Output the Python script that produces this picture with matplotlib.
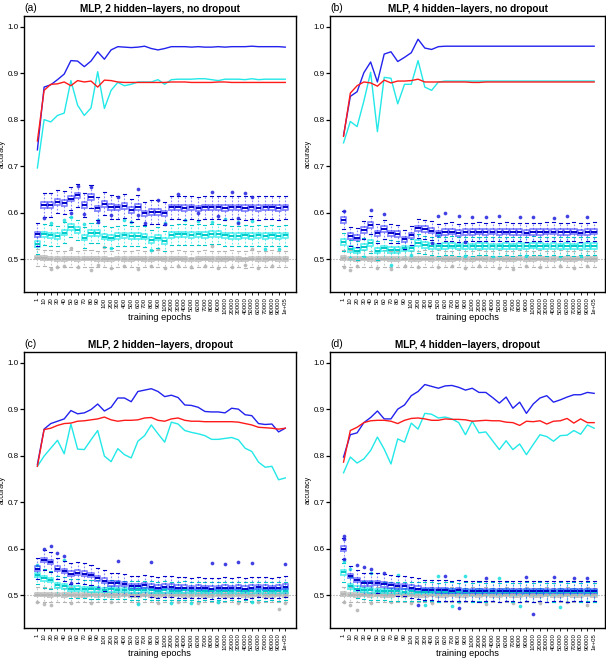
import matplotlib
matplotlib.use("Agg")
import matplotlib.pyplot as plt

plt.rcParams['font.family'] = ['Liberation Sans', 'DejaVu Sans']

# x tick labels (training epochs)
epochs = ['1', '10', '20', '30', '40', '50', '60', '70', '80', '90', '100',
          '200', '300', '400', '500', '600', '700', '800', '900', '1000',
          '2000', '3000', '4000', '5000', '6000', '7000', '8000', '9000', '10000',
          '20000', '30000', '40000', '50000', '60000', '70000', '80000', '90000', '1e+05']

titles = ['MLP, 2 hidden\u2212layers, no dropout', 'MLP, 4 hidden\u2212layers, no dropout',
          'MLP, 2 hidden\u2212layers, dropout', 'MLP, 4 hidden\u2212layers, dropout']
letters = ['(a)', '(b)', '(c)', '(d)']

# ---- accuracy lines ----
blue_a = [0.735, 0.870, 0.875, 0.886, 0.898, 0.927, 0.926, 0.914, 0.926, 0.946, 0.930, 0.950, 0.957,
          0.956, 0.955, 0.956, 0.958, 0.953, 0.950, 0.953, 0.957, 0.957, 0.957, 0.956, 0.957, 0.956,
          0.956, 0.957, 0.956, 0.957, 0.957, 0.957, 0.958, 0.957, 0.957, 0.957, 0.957, 0.956]
cyan_a = [0.696, 0.800, 0.795, 0.809, 0.814, 0.884, 0.831, 0.809, 0.825, 0.903, 0.824, 0.863, 0.880,
          0.873, 0.876, 0.881, 0.881, 0.881, 0.886, 0.876, 0.886, 0.887, 0.887, 0.887, 0.888, 0.888,
          0.886, 0.884, 0.887, 0.887, 0.887, 0.886, 0.888, 0.886, 0.887, 0.887, 0.887, 0.887]
red_a = [0.754, 0.863, 0.876, 0.877, 0.881, 0.873, 0.884, 0.881, 0.883, 0.870, 0.885, 0.884, 0.881,
         0.880, 0.880, 0.880, 0.880, 0.880, 0.880, 0.880, 0.881, 0.881, 0.881, 0.880, 0.880, 0.880,
         0.880, 0.881, 0.881, 0.880, 0.880, 0.880, 0.880, 0.880, 0.880, 0.880, 0.880, 0.880]

blue_b = [0.766, 0.850, 0.860, 0.901, 0.924, 0.881, 0.941, 0.946, 0.925, 0.934, 0.944, 0.973, 0.954,
          0.951, 0.957, 0.958, 0.958, 0.958, 0.958, 0.958, 0.958, 0.958, 0.958, 0.958, 0.958, 0.958,
          0.958, 0.958, 0.958, 0.958, 0.958, 0.958, 0.958, 0.958, 0.958, 0.958, 0.958, 0.958]
cyan_b = [0.750, 0.796, 0.785, 0.840, 0.902, 0.774, 0.891, 0.889, 0.834, 0.876, 0.876, 0.927, 0.870,
          0.863, 0.881, 0.883, 0.883, 0.883, 0.883, 0.883, 0.883, 0.883, 0.883, 0.883, 0.883, 0.883,
          0.883, 0.883, 0.883, 0.883, 0.883, 0.883, 0.883, 0.883, 0.883, 0.883, 0.883, 0.883]
red_b = [0.764, 0.857, 0.873, 0.881, 0.879, 0.872, 0.885, 0.879, 0.883, 0.883, 0.884, 0.887, 0.881,
         0.881, 0.881, 0.881, 0.881, 0.881, 0.881, 0.880, 0.880, 0.881, 0.881, 0.881, 0.881, 0.881,
         0.881, 0.881, 0.881, 0.881, 0.881, 0.881, 0.881, 0.881, 0.881, 0.881, 0.881, 0.881]

blue_c = [0.781, 0.857, 0.869, 0.874, 0.879, 0.897, 0.890, 0.892, 0.899, 0.911, 0.896, 0.904, 0.924,
          0.924, 0.916, 0.938, 0.941, 0.944, 0.938, 0.927, 0.930, 0.925, 0.909, 0.908, 0.904, 0.895,
          0.894, 0.894, 0.892, 0.902, 0.900, 0.888, 0.886, 0.869, 0.867, 0.868, 0.851, 0.859]
cyan_c = [0.777, 0.799, 0.816, 0.833, 0.804, 0.868, 0.814, 0.813, 0.834, 0.854, 0.799, 0.787, 0.815,
          0.802, 0.795, 0.831, 0.843, 0.866, 0.847, 0.829, 0.872, 0.868, 0.854, 0.850, 0.847, 0.843,
          0.835, 0.835, 0.837, 0.839, 0.834, 0.816, 0.809, 0.786, 0.775, 0.777, 0.748, 0.752]
red_c = [0.777, 0.856, 0.859, 0.865, 0.869, 0.870, 0.874, 0.875, 0.877, 0.879, 0.883, 0.877, 0.874,
         0.876, 0.876, 0.877, 0.881, 0.882, 0.876, 0.874, 0.879, 0.881, 0.876, 0.874, 0.874, 0.873,
         0.873, 0.873, 0.873, 0.873, 0.872, 0.869, 0.866, 0.861, 0.860, 0.859, 0.857, 0.859]

blue_d = [0.797, 0.845, 0.849, 0.871, 0.882, 0.896, 0.879, 0.879, 0.900, 0.909, 0.929, 0.938, 0.953,
          0.949, 0.945, 0.950, 0.951, 0.947, 0.941, 0.945, 0.936, 0.936, 0.925, 0.913, 0.926, 0.902,
          0.915, 0.891, 0.911, 0.924, 0.929, 0.915, 0.920, 0.926, 0.931, 0.931, 0.936, 0.934]
cyan_d = [0.763, 0.797, 0.784, 0.793, 0.811, 0.840, 0.814, 0.782, 0.836, 0.829, 0.870, 0.857, 0.891,
          0.889, 0.881, 0.883, 0.879, 0.871, 0.845, 0.874, 0.849, 0.851, 0.832, 0.813, 0.832, 0.813,
          0.825, 0.802, 0.824, 0.845, 0.841, 0.831, 0.843, 0.844, 0.854, 0.846, 0.866, 0.859]
red_d = [0.786, 0.854, 0.861, 0.871, 0.875, 0.876, 0.876, 0.874, 0.869, 0.876, 0.880, 0.881, 0.879,
         0.876, 0.876, 0.879, 0.878, 0.878, 0.877, 0.874, 0.875, 0.876, 0.875, 0.875, 0.872, 0.871,
         0.865, 0.874, 0.873, 0.875, 0.868, 0.874, 0.875, 0.880, 0.870, 0.879, 0.871, 0.871]

# ---- boxplot medians ----
bmed_a = [0.553, 0.616, 0.616, 0.623, 0.621, 0.630, 0.637, 0.616, 0.634, 0.609, 0.619, 0.612, 0.611,
          0.614, 0.605, 0.612, 0.598, 0.601, 0.601, 0.598, 0.611, 0.611, 0.610, 0.611, 0.609, 0.611,
          0.611, 0.611, 0.610, 0.611, 0.611, 0.610, 0.611, 0.610, 0.611, 0.611, 0.610, 0.611]
cmed_a = [0.532, 0.553, 0.551, 0.550, 0.557, 0.569, 0.562, 0.546, 0.556, 0.556, 0.548, 0.546, 0.550,
          0.551, 0.549, 0.550, 0.548, 0.541, 0.546, 0.539, 0.552, 0.553, 0.553, 0.552, 0.553, 0.552,
          0.554, 0.554, 0.551, 0.550, 0.550, 0.551, 0.550, 0.551, 0.550, 0.551, 0.550, 0.551]
gmed_a = [0.503, 0.502, 0.501, 0.500, 0.500, 0.501, 0.500, 0.501, 0.501, 0.500, 0.500, 0.499, 0.501,
          0.500, 0.500, 0.501, 0.500, 0.500, 0.501, 0.500, 0.500, 0.501, 0.500, 0.499, 0.500, 0.501,
          0.500, 0.500, 0.500, 0.501, 0.500, 0.499, 0.501, 0.500, 0.500, 0.501, 0.500, 0.500]

bmed_b = [0.584, 0.549, 0.546, 0.562, 0.573, 0.555, 0.564, 0.555, 0.554, 0.542, 0.551, 0.566, 0.564,
          0.561, 0.555, 0.558, 0.559, 0.556, 0.558, 0.558, 0.559, 0.558, 0.559, 0.558, 0.559, 0.558,
          0.558, 0.557, 0.558, 0.558, 0.559, 0.559, 0.558, 0.558, 0.559, 0.557, 0.558, 0.559]
cmed_b = [0.537, 0.521, 0.518, 0.526, 0.534, 0.518, 0.523, 0.520, 0.519, 0.523, 0.523, 0.534, 0.530,
          0.528, 0.527, 0.528, 0.529, 0.527, 0.528, 0.527, 0.528, 0.528, 0.527, 0.527, 0.528, 0.527,
          0.528, 0.528, 0.529, 0.528, 0.527, 0.528, 0.527, 0.528, 0.527, 0.528, 0.528, 0.528]
gmed_b = [0.502, 0.501, 0.500, 0.501, 0.500, 0.500, 0.501, 0.500, 0.500, 0.501, 0.500, 0.500, 0.501,
          0.500, 0.501, 0.500, 0.500, 0.501, 0.500, 0.500, 0.501, 0.500, 0.500, 0.501, 0.500, 0.500,
          0.501, 0.500, 0.500, 0.501, 0.500, 0.500, 0.501, 0.500, 0.500, 0.501, 0.500, 0.500]

bmed_c = [0.557, 0.575, 0.571, 0.557, 0.552, 0.546, 0.548, 0.546, 0.543, 0.536, 0.531, 0.525, 0.525,
          0.524, 0.519, 0.519, 0.521, 0.518, 0.516, 0.518, 0.518, 0.516, 0.516, 0.515, 0.516, 0.515,
          0.514, 0.515, 0.516, 0.515, 0.516, 0.514, 0.516, 0.517, 0.516, 0.515, 0.516, 0.518]
cmed_c = [0.543, 0.536, 0.532, 0.521, 0.519, 0.514, 0.514, 0.513, 0.512, 0.512, 0.511, 0.512, 0.511,
          0.511, 0.510, 0.510, 0.511, 0.510, 0.509, 0.510, 0.509, 0.509, 0.510, 0.509, 0.508, 0.509,
          0.508, 0.509, 0.508, 0.509, 0.508, 0.509, 0.508, 0.509, 0.508, 0.509, 0.508, 0.509]
gmed_c = [0.501, 0.501, 0.500, 0.501, 0.500, 0.501, 0.500, 0.500, 0.501, 0.500, 0.501, 0.500, 0.500,
          0.501, 0.500, 0.500, 0.501, 0.500, 0.500, 0.501, 0.500, 0.501, 0.500, 0.500, 0.501, 0.500,
          0.500, 0.501, 0.500, 0.500, 0.501, 0.500, 0.500, 0.501, 0.500, 0.500, 0.501, 0.500]

bmed_d = [0.600, 0.541, 0.532, 0.525, 0.525, 0.526, 0.523, 0.521, 0.519, 0.519, 0.516, 0.514, 0.511,
          0.511, 0.510, 0.510, 0.509, 0.510, 0.509, 0.509, 0.508, 0.509, 0.509, 0.508, 0.509, 0.509,
          0.508, 0.509, 0.508, 0.509, 0.508, 0.509, 0.509, 0.508, 0.509, 0.509, 0.508, 0.509]
cmed_d = [0.549, 0.519, 0.514, 0.511, 0.510, 0.509, 0.509, 0.508, 0.508, 0.507, 0.508, 0.507, 0.507,
          0.507, 0.506, 0.507, 0.507, 0.506, 0.507, 0.506, 0.507, 0.506, 0.507, 0.506, 0.507, 0.506,
          0.506, 0.507, 0.506, 0.507, 0.506, 0.506, 0.507, 0.506, 0.507, 0.506, 0.507, 0.506]
gmed_d = [0.502, 0.501, 0.500, 0.501, 0.500, 0.501, 0.500, 0.500, 0.501, 0.500, 0.501, 0.500, 0.500,
          0.501, 0.500, 0.500, 0.501, 0.500, 0.500, 0.501, 0.500, 0.501, 0.500, 0.500, 0.501, 0.500,
          0.500, 0.501, 0.500, 0.500, 0.501, 0.500, 0.500, 0.501, 0.500, 0.500, 0.501, 0.500]

# box half-height and whisker reach per panel (blue, cyan, gray)
box_half = [(0.006, 0.006, 0.004), (0.006, 0.006, 0.004), (0.005, 0.005, 0.004), (0.005, 0.005, 0.004)]
whisk = [(0.025, 0.022, 0.018), (0.020, 0.020, 0.018), (0.022, 0.020, 0.016), (0.022, 0.020, 0.016)]

# outliers: (position, accuracy)
bout_a = [(2, 0.588), (6, 0.598), (7, 0.657), (8, 0.596), (9, 0.656), (10, 0.579), (12, 0.595),
          (13, 0.633), (16, 0.651), (16, 0.595), (17, 0.577), (19, 0.627), (20, 0.575), (22, 0.640),
          (25, 0.598), (27, 0.644), (28, 0.593), (30, 0.645), (31, 0.588), (31, 0.578), (32, 0.642),
          (33, 0.634)]
cout_a = [(3, 0.578), (5, 0.584), (6, 0.590), (8, 0.575), (10, 0.585), (12, 0.523), (14, 0.584),
          (15, 0.580), (18, 0.520), (20, 0.578), (23, 0.584), (25, 0.582), (27, 0.579), (29, 0.586),
          (31, 0.580), (33, 0.582), (35, 0.521), (37, 0.522)]
gout_a = [(3, 0.478), (4, 0.482), (5, 0.486), (7, 0.483), (9, 0.476), (10, 0.488), (12, 0.480),
          (14, 0.484), (16, 0.479), (18, 0.485), (20, 0.481), (22, 0.484), (24, 0.482), (26, 0.486),
          (28, 0.480), (30, 0.483), (32, 0.487), (34, 0.481), (36, 0.484), (6, 0.523), (11, 0.526),
          (19, 0.522), (27, 0.527), (33, 0.521)]

bout_b = [(1, 0.603), (5, 0.605), (7, 0.597), (15, 0.592), (16, 0.598), (18, 0.593), (20, 0.590),
          (22, 0.591), (24, 0.592), (27, 0.590), (29, 0.591), (32, 0.589), (34, 0.593), (37, 0.590),
          (14, 0.535), (19, 0.537)]
cout_b = [(2, 0.502), (4, 0.505), (8, 0.488), (11, 0.508), (15, 0.552), (19, 0.506), (23, 0.505),
          (28, 0.507), (33, 0.503), (36, 0.504)]
gout_b = [(1, 0.482), (2, 0.477), (3, 0.485), (6, 0.480), (8, 0.478), (10, 0.484), (12, 0.483),
          (15, 0.482), (17, 0.486), (19, 0.480), (21, 0.485), (24, 0.481), (26, 0.479), (28, 0.484),
          (30, 0.482), (33, 0.485), (35, 0.481), (37, 0.486)]

bout_c = [(2, 0.600), (3, 0.606), (4, 0.590), (5, 0.585), (13, 0.574), (18, 0.570), (27, 0.569),
          (29, 0.567), (31, 0.572), (33, 0.568), (38, 0.566), (6, 0.525), (10, 0.515)]
cout_c = [(1, 0.565), (5, 0.575), (16, 0.481), (21, 0.482), (24, 0.483), (28, 0.485), (33, 0.486)]
gout_c = [(1, 0.485), (2, 0.480), (3, 0.478), (6, 0.483), (9, 0.482), (12, 0.484), (16, 0.483),
          (19, 0.482), (22, 0.485), (25, 0.483), (28, 0.484), (31, 0.482), (34, 0.485), (37, 0.470),
          (38, 0.482)]

bout_d = [(1, 0.627), (1, 0.620), (1, 0.578), (3, 0.565), (4, 0.560), (5, 0.557), (7, 0.548),
          (16, 0.541), (22, 0.537), (28, 0.538), (29, 0.460), (32, 0.539), (35, 0.537), (37, 0.536),
          (12, 0.478), (18, 0.472)]
cout_d = [(1, 0.573), (2, 0.555), (5, 0.548), (9, 0.542), (15, 0.541), (19, 0.540), (24, 0.536),
          (13, 0.478), (17, 0.476), (27, 0.477), (33, 0.475)]
gout_d = [(1, 0.485), (2, 0.479), (3, 0.468), (5, 0.482), (8, 0.484), (11, 0.483), (14, 0.482),
          (18, 0.484), (22, 0.481), (26, 0.483), (30, 0.482), (34, 0.484), (37, 0.479)]

panels = [
    (blue_a, cyan_a, red_a, bmed_a, cmed_a, gmed_a, bout_a, cout_a, gout_a),
    (blue_b, cyan_b, red_b, bmed_b, cmed_b, gmed_b, bout_b, cout_b, gout_b),
    (blue_c, cyan_c, red_c, bmed_c, cmed_c, gmed_c, bout_c, cout_c, gout_c),
    (blue_d, cyan_d, red_d, bmed_d, cmed_d, gmed_d, bout_d, cout_d, gout_d),
]

# axes rectangles in figure pixels (left, top, right, bottom)
W, H = 606, 658
rects = [(24, 16, 296, 292), (330, 16, 605, 292), (24, 352, 296, 628), (330, 352, 605, 628)]

# colours: box edge, median, flier
box_cols = [((0.15, 0.15, 1.0, 0.55), '#0000c8', '#2828e0'),
            ((0.0, 0.9, 0.9, 0.6), '#00c8c8', '#20e0e0'),
            ((0.72, 0.72, 0.72, 0.8), '#b4b4b4', '#b4b4b4')]


def draw_boxes(ax, meds, half, reach, outs, cols):
    edge, medc, flc = cols
    pos = list(range(1, len(meds) + 1))
    stats = []
    for m in meds:
        stats.append({'med': m, 'q1': m - half, 'q3': m + half,
                      'whislo': m - reach, 'whishi': m + reach, 'fliers': []})
    ax.bxp(stats, positions=pos, widths=0.8, showfliers=False,
           boxprops=dict(color=edge, linewidth=1.3),
           medianprops=dict(color=medc, linewidth=1.4),
           whiskerprops=dict(color=edge, linewidth=0.8, linestyle=(0, (1.5, 1.5))),
           capprops=dict(color=medc, linewidth=0.8), capwidths=0.45)
    ax.plot([p for p, v in outs], [v for p, v in outs], 'o', ms=1.7, mfc=flc, mec=flc,
            alpha=0.8, ls='none')


fig = plt.figure(figsize=(W / 100, H / 100), dpi=100)
for i, (bl, cy, rd, bm, cm, gm, bo, co, go) in enumerate(panels):
    l, t, r, b = rects[i]
    ax = fig.add_axes([l / W, 1 - b / H, (r - l) / W, (b - t) / H])
    x = list(range(1, 39))

    ax.axhline(0.5, color='#999999', ls=':', lw=0.8, zorder=0)
    draw_boxes(ax, gm, box_half[i][2], whisk[i][2], go, box_cols[2])
    draw_boxes(ax, cm, box_half[i][1], whisk[i][1], co, box_cols[1])
    draw_boxes(ax, bm, box_half[i][0], whisk[i][0], bo, box_cols[0])

    ax.plot(x, cy, color='#22e8e8', lw=1.0)
    ax.plot(x, bl, color='#2222ee', lw=1.0)
    ax.plot(x, rd, color='#ff1a1a', lw=1.0)

    ax.set_xlim(-1.0, 39.6)
    ax.set_ylim(0.429, 1.023)
    ax.set_yticks([0.5, 0.6, 0.7, 0.8, 0.9, 1.0])
    ax.set_yticklabels(['0.5', '0.6', '0.7', '0.8', '0.9', '1.0'])
    ax.set_xticks(x)
    ax.set_xticklabels(epochs, rotation=90, fontsize=4.3)
    ax.tick_params(axis='y', labelsize=5.8, length=3, width=0.9, pad=1)
    ax.tick_params(axis='x', length=2.5, width=0.6, pad=1.5)
    for s in ax.spines.values():
        s.set_linewidth(1.0)

    ax.set_xlabel('training epochs', fontsize=6.7)
    ax.xaxis.set_label_coords(0.5, -0.075)
    ax.set_ylabel('accuracy', fontsize=5)
    ax.yaxis.set_label_coords(-0.066, 0.5)
    ax.set_title(titles[i], fontsize=7.2, fontweight='bold', pad=3)
    ax.text(0.0, 1.012, letters[i], transform=ax.transAxes, fontsize=7.5,
            ha='left', va='bottom')

fig.savefig('out.png', dpi=100)
